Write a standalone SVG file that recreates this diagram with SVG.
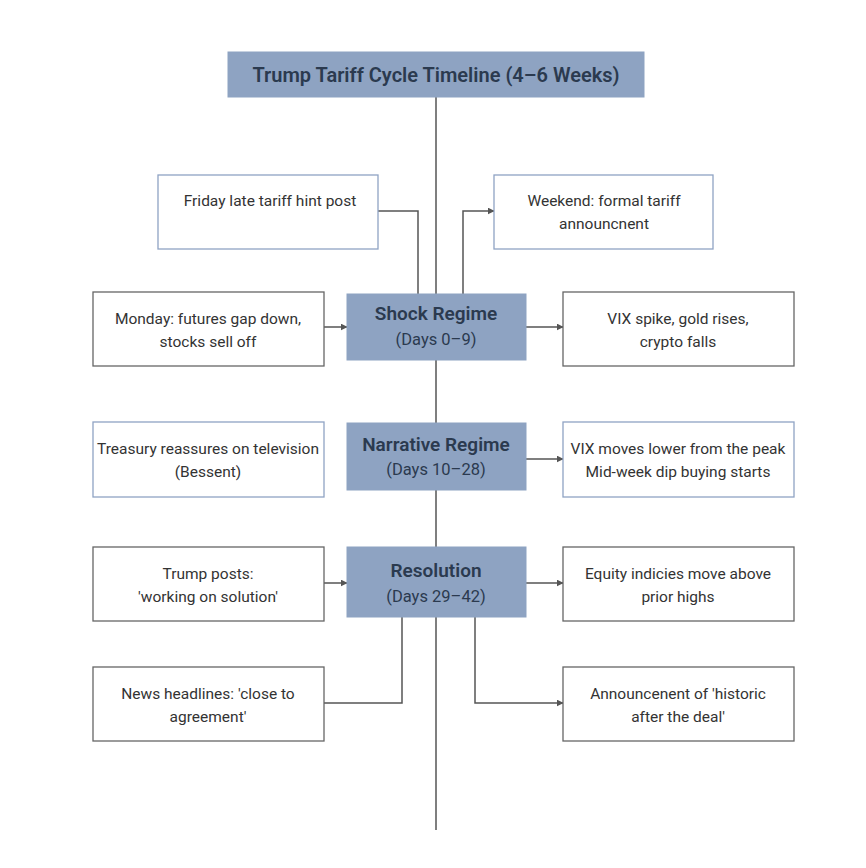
<svg xmlns="http://www.w3.org/2000/svg" width="866" height="868" viewBox="0 0 866 868">
<defs>
<marker id="ah" viewBox="0 0 10 10" refX="9" refY="5" markerWidth="7" markerHeight="7" orient="auto" markerUnits="userSpaceOnUse"><path d="M0,0 L10,5 L0,10 z" fill="#555"/></marker>
<style>
.box{fill:#fff;stroke:#666;stroke-width:1.3}
.bb{fill:#fff;stroke:#8fa3c4;stroke-width:1.3}
.reg{fill:#8ea3c2;stroke:#8ea3c2}
.t{font-family:Roboto,"Liberation Sans",sans-serif;font-size:15.5px;fill:#333;text-anchor:middle}
.rt{font-family:Roboto,"Liberation Sans",sans-serif;font-size:19px;font-weight:600;fill:#2b3a4f;text-anchor:middle}
.rs{font-family:Roboto,"Liberation Sans",sans-serif;font-size:16.5px;fill:#2b3a4f;text-anchor:middle}
.c{fill:none;stroke:#555;stroke-width:1.5}
</style>
</defs>
<rect width="866" height="868" fill="#fff"/>
<g id="connectors">
<line class="c" x1="436" y1="97" x2="436" y2="830"/>
<polyline class="c" points="378,211 418,211 418,294"/>
<polyline class="c" points="463,294 463,211 494,211" marker-end="url(#ah)"/>
<line class="c" x1="324" y1="327" x2="347" y2="327" marker-end="url(#ah)"/>
<line class="c" x1="526" y1="327" x2="563" y2="327" marker-end="url(#ah)"/>
<line class="c" x1="526" y1="459" x2="563" y2="459" marker-end="url(#ah)"/>
<line class="c" x1="324" y1="583" x2="347" y2="583" marker-end="url(#ah)"/>
<line class="c" x1="526" y1="583" x2="563" y2="583" marker-end="url(#ah)"/>
<polyline class="c" points="402,617 402,703 324,703"/>
<polyline class="c" points="475,617 475,703 563,703" marker-end="url(#ah)"/>
</g>
<g id="title"><rect x="228" y="52" width="416" height="45" class="reg"/><text class="rt" x="436" y="82" style="font-size:20px">Trump Tariff Cycle Timeline (4–6 Weeks)</text></g>
<g id="friday"><rect x="158" y="175" width="220" height="74" class="bb"/><text class="t" x="270" y="206">Friday late tariff hint post</text></g>
<g id="weekend"><rect x="494" y="175" width="219" height="74" class="bb"/><text class="t" x="604" y="206">Weekend: formal tariff</text><text class="t" x="604" y="229">announcnent</text></g>
<g id="shock"><rect x="347" y="294" width="179" height="66" class="reg"/><text class="rt" x="436" y="320">Shock Regime</text><text class="rs" x="436" y="345">(Days 0–9)</text></g>
<g id="monday"><rect x="93" y="292" width="231" height="74" class="box"/><text class="t" x="208" y="324">Monday: futures gap down,</text><text class="t" x="208" y="347">stocks sell off</text></g>
<g id="vix"><rect x="563" y="292" width="231" height="74" class="box"/><text class="t" x="678" y="324">VIX spike, gold rises,</text><text class="t" x="678" y="347">crypto falls</text></g>
<g id="narrative"><rect x="347" y="423" width="179" height="67" class="reg"/><text class="rt" x="436" y="451">Narrative Regime</text><text class="rs" x="436" y="475">(Days 10–28)</text></g>
<g id="treasury"><rect x="93" y="422" width="231" height="75" class="bb"/><text class="t" x="208" y="454">Treasury reassures on television</text><text class="t" x="208" y="477">(Bessent)</text></g>
<g id="vixlower"><rect x="563" y="422" width="231" height="75" class="bb"/><text class="t" x="678" y="454">VIX moves lower from the peak</text><text class="t" x="678" y="477">Mid-week dip buying starts</text></g>
<g id="resolution"><rect x="347" y="547" width="179" height="70" class="reg"/><text class="rt" x="436" y="577">Resolution</text><text class="rs" x="436" y="602">(Days 29–42)</text></g>
<g id="trumpposts"><rect x="93" y="547" width="231" height="74" class="box"/><text class="t" x="208" y="579">Trump posts:</text><text class="t" x="208" y="602">'working on solution'</text></g>
<g id="equity"><rect x="563" y="547" width="231" height="74" class="box"/><text class="t" x="678" y="579">Equity indicies move above</text><text class="t" x="678" y="602">prior highs</text></g>
<g id="news"><rect x="93" y="667" width="231" height="74" class="box"/><text class="t" x="208" y="699">News headlines: 'close to</text><text class="t" x="208" y="722">agreement'</text></g>
<g id="announce"><rect x="563" y="667" width="231" height="74" class="box"/><text class="t" x="678" y="699">Announcenent of 'historic</text><text class="t" x="678" y="722">after the deal'</text></g>
</svg>
